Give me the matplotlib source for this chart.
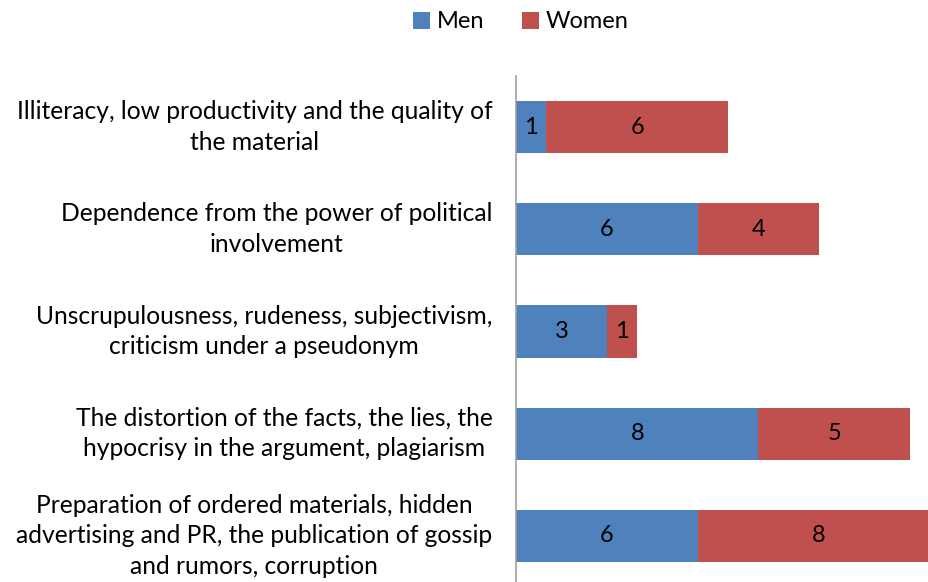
import matplotlib
matplotlib.use("Agg")
import matplotlib.pyplot as plt
import numpy as np

categories = [
    "Illiteracy, low productivity and the quality of\nthe material",
    "Dependence from the power of political\ninvolvement",
    "Unscrupulousness, rudeness, subjectivism,\ncriticism under a pseudonym",
    "The distortion of the facts, the lies, the\nhypocrisy in the argument, plagiarism",
    "Preparation of ordered materials, hidden\nadvertising and PR, the publication of gossip\nand rumors, corruption",
]
men = [1, 6, 3, 8, 6]
women = [6, 4, 1, 5, 8]
series_names = ["Men", "Women"]
colors = ["#4F81BD", "#C0504D"]

plt.rcParams['font.family'] = ['Lato', 'DejaVu Sans']

fig = plt.figure(figsize=(9.29, 5.82), dpi=100)
W, H = 929, 582
left, right, top, bottom = 516, 929, 76, 587
ax = fig.add_axes([left / W, 1 - bottom / H, (right - left) / W, (bottom - top) / H])

y = np.arange(len(categories))
bh = 0.51
b1 = ax.barh(y, men, height=bh, color=colors[0], label=series_names[0])
b2 = ax.barh(y, women, left=men, height=bh, color=colors[1], label=series_names[1])

for i in range(len(categories)):
    ax.text(men[i] / 2, y[i], str(men[i]), ha='center', va='center', fontsize=17, color='black')
    ax.text(men[i] + women[i] / 2, y[i], str(women[i]), ha='center', va='center', fontsize=17, color='black')

ax.set_xlim(0, 413 / 30.3)
ax.set_ylim(len(categories) - 0.5, -0.5)
ax.set_yticks(y)
ax.set_yticklabels(categories, fontsize=17.7, multialignment='center', linespacing=1.4, va='center')
ax.tick_params(axis='y', length=0, pad=17)
ax.set_xticks([])
for s in ['top', 'right', 'bottom']:
    ax.spines[s].set_visible(False)
ax.spines['left'].set_color('#A0A0A0')
ax.spines['left'].set_linewidth(1.2)

fig.legend(handles=[b1, b2], labels=series_names, loc='center', bbox_to_anchor=(521 / W, 1 - 22 / H),
           ncol=2, frameon=False, fontsize=17, handlelength=0.7, handleheight=0.7,
           handletextpad=0.3, columnspacing=1.6)

fig.savefig("out.png", dpi=100)
